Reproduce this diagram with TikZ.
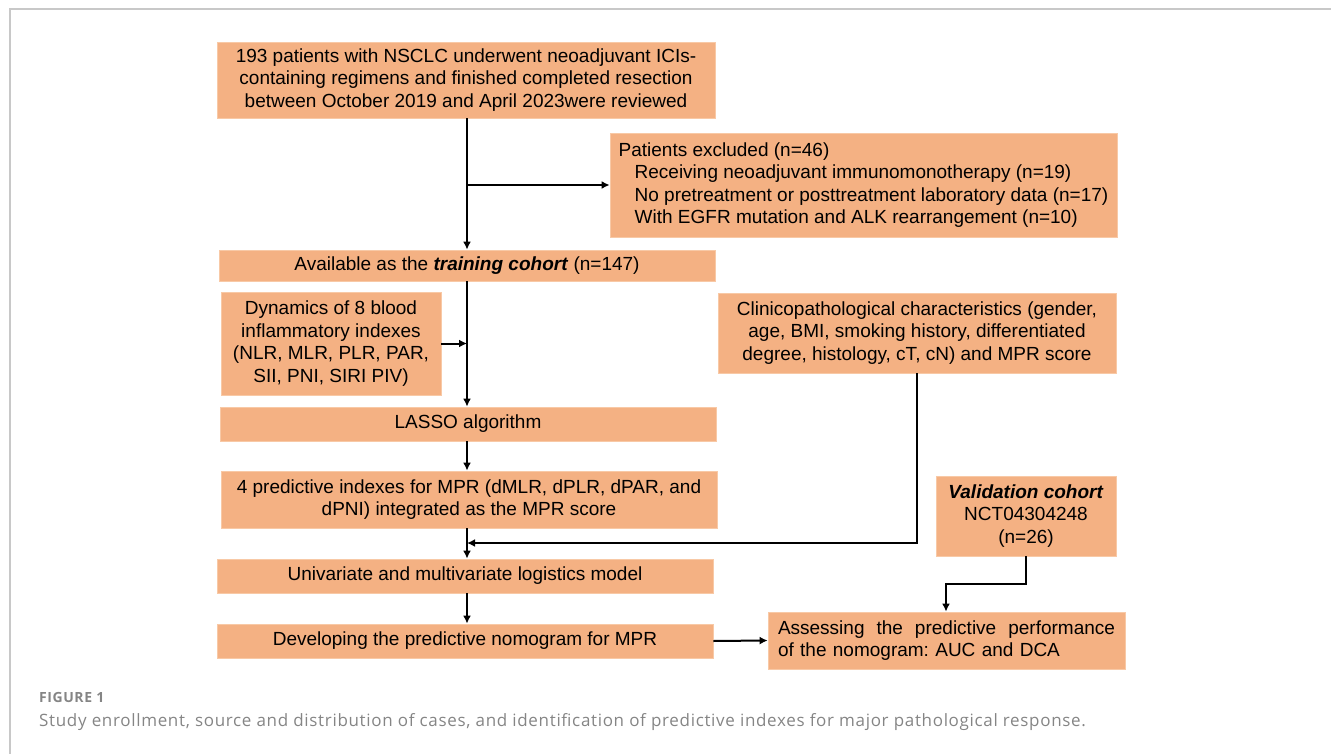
\documentclass[tikz,border=0pt]{standalone}
\usepackage{fontspec}
\setmainfont{Liberation Sans}
\newfontfamily\capfont[LetterSpace=4]{Open Sans}
\usetikzlibrary{arrows.meta}
\frenchspacing
\definecolor{boxfill}{HTML}{F4B183}
\definecolor{boxedge}{HTML}{F8C9A6}
\definecolor{capgray}{HTML}{858585}
\definecolor{framegray}{HTML}{C8C8C8}
\tikzset{
  box/.style={fill=boxfill, draw=boxedge, line width=0.8pt, inner sep=0pt, align=center,
              font=\fontsize{19}{22.5}\selectfont\frenchspacing},
  arr/.style={draw=black, line width=2pt, -{Latex[length=8pt,width=8pt]}},
}
\begin{document}
\begin{tikzpicture}[x=1pt,y=-1pt]
\useasboundingbox (0,0) rectangle (1331,754);
\draw[framegray, line width=1.5pt] (10,754) -- (10,9) -- (1331,9);

\node[box, minimum width=498, minimum height=76] (b1) at (466,80)
  {193 patients with NSCLC underwent neoadjuvant ICIs-\\containing regimens and finished completed resection\\between October 2019 and April 2023were reviewed};
\node[box, minimum width=507, minimum height=104, align=left] (excl) at (863.5,185)
  {Patients excluded (n=46)\\
   \hspace*{16pt}Receiving neoadjuvant immunomonotherapy (n=19)\\
   \hspace*{16pt}No pretreatment or posttreatment laboratory data (n=17)\\
   \hspace*{16pt}With EGFR mutation and ALK rearrangement (n=10)};
\node[box, minimum width=496, minimum height=31] (train) at (467,265.5)
  {Available as the \textbf{\textit{training cohort}} (n=147)};
\node[box, minimum width=220, minimum height=103] (dyn) at (331,343.5)
  {Dynamics of 8 blood\\inflammatory indexes\\(NLR, MLR, PLR, PAR,\\SII, PNI, SIRI PIV)};
\node[box, minimum width=398, minimum height=80] (clin) at (917,333)
  {Clinicopathological characteristics (gender,\\age, BMI, smoking history, differentiated\\degree, histology, cT, cN) and MPR score};
\node[box, minimum width=496, minimum height=34] (lasso) at (468,424)
  {LASSO algorithm};
\node[box, minimum width=496, minimum height=57] (pred) at (469,499.5)
  {4 predictive indexes for MPR (dMLR, dPLR, dPAR, and\\dPNI) integrated as the MPR score};
\node[box, minimum width=180, minimum height=80] (valid) at (1026,516)
  {\textbf{\textit{Validation cohort}}\\NCT04304248\\(n=26)};
\node[box, minimum width=496, minimum height=34] (uni) at (465,576)
  {Univariate and multivariate logistics model};
\node[box, minimum width=496, minimum height=34] (dev) at (465,641)
  {Developing the predictive nomogram for MPR};
\node[box, minimum width=357, minimum height=57, text width=337, align=left] (assess) at (946.5,640.5)
  {\hbox to 337pt{Assessing\hfill the\hfill predictive\hfill performance}\\of the nomogram: AUC and DCA};

\coordinate (sp) at (467,0);
\coordinate (m) at (467,543);
\coordinate (v1) at (946,584);

\draw[arr] (sp |- b1.south) -- (sp |- train.north);
\draw[arr] (sp |- excl.west) -- (excl.west);
\draw[arr] (sp |- train.south) -- (sp |- lasso.north);
\draw[arr] (dyn.east) -- (sp |- dyn.east);
\draw[arr] (sp |- lasso.south) -- (sp |- pred.north);
\draw[arr] (sp |- pred.south) -- (sp |- uni.north);
\draw[arr] (clin.south) |- (m);
\draw[arr] (sp |- uni.south) -- (sp |- dev.north);
\draw[arr] (valid.south) |- (v1) -- (v1 |- assess.north);
\draw[arr] (dev.east) -- (assess.west);

\node[anchor=west, inner sep=0pt, text=capgray, font=\capfont\bfseries\fontsize{14}{16}\selectfont] (fig) at (39,697) {FIGURE 1};
\node[anchor=west, inner sep=0pt, text=capgray, font=\capfont\fontsize{17}{20}\selectfont] (cap) at (39,722)
  {Study enrollment, source and distribution of cases, and identification of predictive indexes for major pathological response.};
\end{tikzpicture}
\end{document}
